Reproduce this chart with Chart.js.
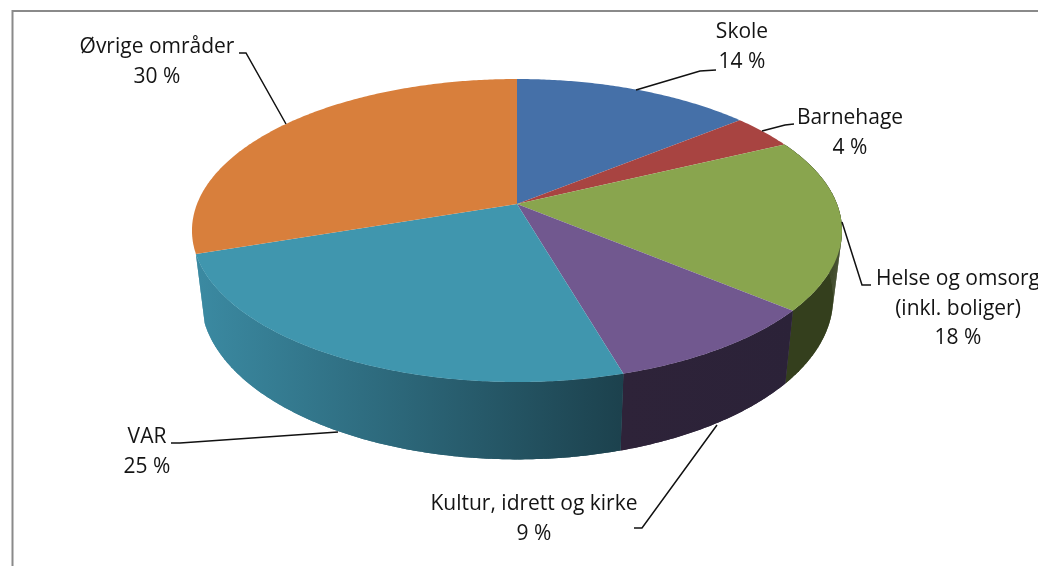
<!DOCTYPE html>
<html>
<head>
<meta charset="utf-8">
<style>html,body{margin:0;padding:0;background:#fff;overflow:hidden}canvas{display:block}</style>
<script src="https://cdn.jsdelivr.net/npm/chart.js@4"></script>
</head>
<body>
<canvas id="c" width="1038" height="566"></canvas>
<script>
const categories = ['Skole','Barnehage','Helse og omsorg (inkl. boliger)','Kultur, idrett og kirke','VAR','Øvrige områder'];
const shares = [14.2, 3.8, 18.49, 9.49, 24.5, 30.49];
const shownPercent = ['14 %','4 %','18 %','9 %','25 %','30 %'];
const topColors = ['#4570a8','#a84441','#89a54e','#71588f','#4096ae','#d87f3c'];

const wallStops = [
  null,null,['#343f1d','#343f1d'],
  ['#2e2339','#2b2238'],['#3b8aa2','#1c414d'],null
];
const labelLayout = [
  {lines:['Skole'],x:742,y:38,lead:[[636,90],[700,71],[716,70]]},
  {lines:['Barnehage'],x:850,y:124,lead:[[762,131],[785,125],[794,124]]},
  {lines:['Helse og omsorg','(inkl. boliger)'],x:958,y:285,lead:[[842,222],[862,285],[871,285]]},
  {lines:['Kultur, idrett og kirke'],x:534,y:510,lead:[[717,425],[642,528],[634,528]]},
  {lines:['VAR'],x:147,y:443,lead:[[338,432],[180,443],[171,443]]},
  {lines:['Øvrige områder'],x:157,y:53,lead:[[286,124],[246,53],[239,53]]}
];
const view = {kx:2.56, ky:1.175, persp:0.175, wallKx:2.49, wallKy:1.25, wallDrop:66};

function project(el, a, wall){
  const u=Math.cos(a), v=Math.sin(a), d=1-view.persp*v, R=el.outerRadius;
  return wall
    ? {x:el.x+view.wallKx*R*u/d, y:el.y+view.wallDrop+view.wallKy*R*v/d}
    : {x:el.x+view.kx*R*u/d, y:el.y+view.ky*R*v/d};
}
function samples(el){
  const n=Math.max(2,Math.ceil((el.endAngle-el.startAngle)/0.01)), out=[];
  for(let i=0;i<=n;i++) out.push(el.startAngle+(el.endAngle-el.startAngle)*i/n);
  return out;
}
Chart.ArcElement.prototype.draw = function(ctx){
  ctx.save();
  ctx.beginPath();
  ctx.moveTo(this.x,this.y);
  samples(this).forEach(a=>{const p=project(this,a,false);ctx.lineTo(p.x,p.y);});
  ctx.closePath();
  ctx.fillStyle=this.options.backgroundColor;
  ctx.fill();
  ctx.restore();
};
const pie3d = {
  id:'pie3d',
  beforeDatasetsDraw(chart){
    const ctx=chart.ctx, els=chart.getDatasetMeta(0).data;
    els.forEach((el,i)=>{
      if(!wallStops[i]) return;
      const as=samples(el);
      const tops=as.map(a=>project(el,a,false)), bots=as.map(a=>project(el,a,true));
      const g=ctx.createLinearGradient(Math.min(...tops.map(p=>p.x)),0,Math.max(...tops.map(p=>p.x)),0);
      g.addColorStop(0,wallStops[i][0]); g.addColorStop(1,wallStops[i][1]);
      ctx.fillStyle=g;
      for(let k=0;k<tops.length-1;k++){
        ctx.beginPath();
        ctx.moveTo(tops[k].x,tops[k].y);
        ctx.lineTo(tops[k+1].x,tops[k+1].y);
        ctx.lineTo(bots[k+1].x,bots[k+1].y);
        ctx.lineTo(bots[k].x,bots[k].y);
        ctx.closePath();
        ctx.fill();
      }
      ctx.beginPath();
      tops.forEach((p,k)=>k?ctx.lineTo(p.x,p.y):ctx.moveTo(p.x,p.y));
      bots.slice().reverse().forEach(p=>ctx.lineTo(p.x,p.y));
      ctx.closePath();
      ctx.fill();
    });
  },
  afterDraw(chart){
    const ctx=chart.ctx;
    ctx.save();
    ctx.fillStyle='#141414';
    ctx.font='21px "Open Sans"';
    ctx.textAlign='center';
    ctx.textBaseline='alphabetic';
    labelLayout.forEach((l,i)=>{
      let y=l.y;
      l.lines.concat([shownPercent[i]]).forEach(t=>{ctx.fillText(t,l.x,y);y+=29.5;});
      ctx.beginPath();
      l.lead.forEach((p,k)=>k?ctx.lineTo(p[0],p[1]):ctx.moveTo(p[0],p[1]));
      ctx.strokeStyle='#111';ctx.lineWidth=1.5;ctx.stroke();
    });
    ctx.strokeStyle='#8a8a8a';ctx.lineWidth=2;
    ctx.beginPath();ctx.moveTo(12.5,566);ctx.lineTo(12.5,11);ctx.lineTo(1038,11);ctx.stroke();
    ctx.restore();
  }
};
new Chart(document.getElementById('c'),{
  type:'pie',
  data:{labels:categories,datasets:[{data:shares,backgroundColor:topColors,borderWidth:0}]},
  options:{
    responsive:false,animation:false,
    layout:{padding:{left:392,right:396,top:79,bottom:237}},
    plugins:{legend:{display:false},tooltip:{enabled:false}}
  },
  plugins:[pie3d]
});
</script>
</body>
</html>
